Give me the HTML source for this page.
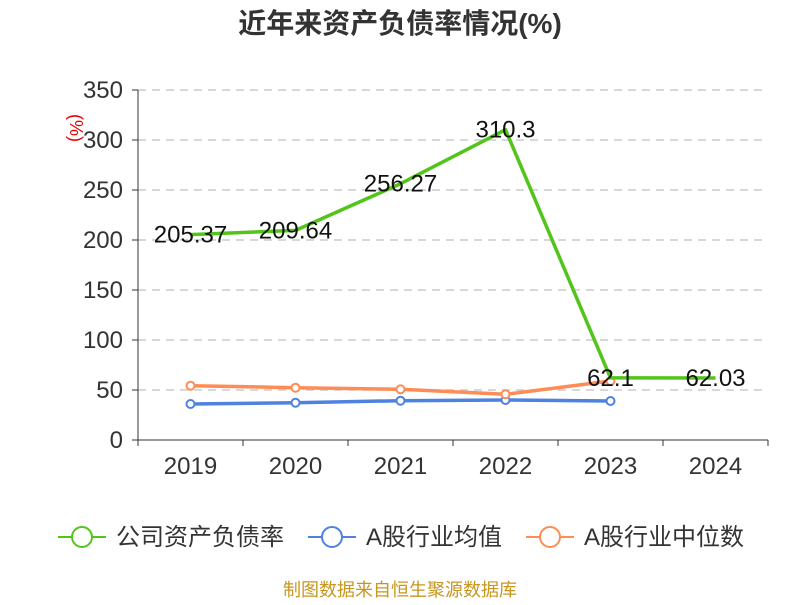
<!DOCTYPE html>
<html><head><meta charset="utf-8"><style>
body{margin:0;background:#fff;font-family:"Liberation Sans","Noto Sans CJK SC",sans-serif;}
svg text{font-family:"Liberation Sans","Noto Sans CJK SC",sans-serif;}
</style></head><body>
<svg id="c" width="800" height="600">
<text x="400" y="33" text-anchor="middle" font-size="28" font-weight="bold" fill="#333">近年来资产负债率情况(%)</text>
<text transform="translate(70,128) rotate(90)" font-size="18" fill="#e00" text-anchor="middle">(%)</text>
<g id="grid"></g><g id="axes"></g><g id="series"></g>
<g>
<g><line x1="58" y1="537" x2="106" y2="537" stroke="#52c41a" stroke-width="2"/><circle cx="82" cy="537" r="10" fill="#fff" stroke="#52c41a" stroke-width="2"/><text x="116" y="545" font-size="24" fill="#333">公司资产负债率</text></g>
<g><line x1="308" y1="537" x2="356" y2="537" stroke="#4e82e0" stroke-width="2"/><circle cx="332" cy="537" r="10" fill="#fff" stroke="#4e82e0" stroke-width="2"/><text x="366" y="545" font-size="24" fill="#333">A股行业均值</text></g>
<g><line x1="526" y1="537" x2="574" y2="537" stroke="#ff8c55" stroke-width="2"/><circle cx="550" cy="537" r="10" fill="#fff" stroke="#ff8c55" stroke-width="2"/><text x="584" y="545" font-size="24" fill="#333">A股行业中位数</text></g>
</g>
<text x="400" y="596" text-anchor="middle" font-size="18" fill="#c8961e">制图数据来自恒生聚源数据库</text>
</svg>
<script>
const categories=["2019","2020","2021","2022","2023","2024"];
const companyValues=[205.37,209.64,256.27,310.3,62.1,62.03];
const avgValues=[36,37.3,39.3,40,39];
const medianValues=[54.3,52.3,50.7,45.7,59];
const yTicks=[0,50,100,150,200,250,300,350];
const X0=138,X1=768,Y0=440,Y1=90,YMAX=350;
const bw=(X1-X0)/categories.length;
const xs=i=>X0+bw*(i+0.5);
const ys=v=>Y0-(v/YMAX)*(Y0-Y1);
const NS="http://www.w3.org/2000/svg";
function mk(p,t,a){const e=document.createElementNS(NS,t);for(const k in a)e.setAttribute(k,a[k]);p.appendChild(e);return e;}
const grid=document.getElementById('grid'),axes=document.getElementById('axes'),ser=document.getElementById('series');
yTicks.forEach(v=>{
 if(v>0){const g=mk(grid,'line',{x1:X0,x2:X1,y1:ys(v),y2:ys(v),stroke:'#ccc','stroke-dasharray':'8,6','stroke-width':1.5});
 
 }
 const t=mk(axes,'text',{x:X0-15,y:ys(v)+8,'text-anchor':'end','font-size':24,fill:'#333'});t.textContent=v;
 
 
 mk(axes,'line',{x1:X0-6,x2:X0,y1:ys(v),y2:ys(v),stroke:'#333'});
});
const ya=mk(axes,'line',{x1:X0,x2:X0,y1:Y1,y2:Y0,stroke:'#333'});


const xa=mk(axes,'line',{x1:X0,x2:X1,y1:Y0,y2:Y0,stroke:'#333'});


categories.forEach((c,i)=>{
 mk(axes,'line',{x1:X0+bw*i,x2:X0+bw*i,y1:Y0,y2:Y0+6,stroke:'#333'});
 const t=mk(axes,'text',{x:xs(i),y:Y0+34,'text-anchor':'middle','font-size':24,fill:'#333'});t.textContent=c;
 
 
});
mk(axes,'line',{x1:X1,x2:X1,y1:Y0,y2:Y0+6,stroke:'#333'});
function series(vals,color,name,markers){
 const pts=vals.map((v,i)=>xs(i)+','+ys(v)).join(' ');
 const l=mk(ser,'polyline',{points:pts,fill:'none',stroke:color,'stroke-width':3.5,'stroke-linejoin':'round'});
 
 
 if(markers)vals.forEach((v,i)=>{const c=mk(ser,'circle',{cx:xs(i),cy:ys(v),r:4,fill:'#fff',stroke:color,'stroke-width':2});
 
 });
}
series(avgValues,'#4e82e0','industry-avg',true);
series(medianValues,'#ff8c55','industry-median',true);
series(companyValues,'#52c41a','company',false);
companyValues.forEach((v,i)=>{
 const t=mk(ser,'text',{x:xs(i),y:ys(v)+8,'text-anchor':'middle','font-size':24,fill:'#111'});t.textContent=v;
 
 
});
</script>
</body></html>
